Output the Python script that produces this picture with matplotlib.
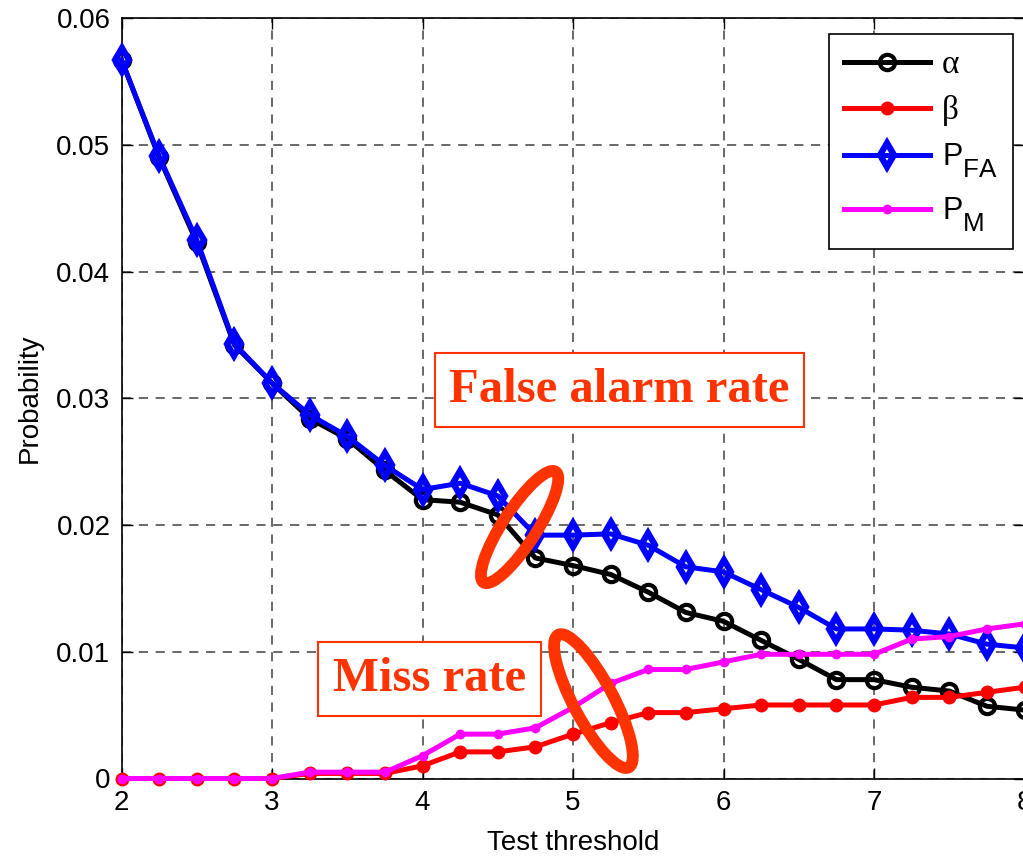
import numpy as np
import matplotlib
matplotlib.use("Agg")
import matplotlib.pyplot as plt
import matplotlib._mathtext as _mt
from matplotlib.patches import Ellipse
from matplotlib.transforms import ScaledTranslation

plt.rcParams['font.family'] = ['Liberation Sans', 'DejaVu Sans']
plt.rcParams['mathtext.fontset'] = 'custom'
plt.rcParams['mathtext.rm'] = 'Liberation Sans'
plt.rcParams['mathtext.it'] = 'Liberation Sans'
plt.rcParams['mathtext.bf'] = 'Liberation Sans:bold'
# larger and lower subscripts, as in the original figure
_mt.SHRINK_FACTOR = 0.85
try:
    _mt.FontConstantsBase.sub1 = 0.75
    _mt.FontConstantsBase.sub2 = 0.9
except Exception:
    pass

threshold = [2.0, 2.25, 2.5, 2.75, 3.0, 3.25, 3.5, 3.75, 4.0, 4.25, 4.5, 4.75,
             5.0, 5.25, 5.5, 5.75, 6.0, 6.25, 6.5, 6.75, 7.0, 7.25, 7.5, 7.75, 8.0]
alpha = [0.0567, 0.0490, 0.0423, 0.0342, 0.0312, 0.0284, 0.0268, 0.0243, 0.0220,
         0.0218, 0.0208, 0.0174, 0.0168, 0.0161, 0.0147, 0.0131, 0.0124, 0.0109,
         0.0094, 0.0078, 0.0078, 0.0072, 0.0069, 0.0057, 0.0054]
beta = [0.0, 0.0, 0.0, 0.0, 0.0, 0.0004, 0.0004, 0.0004, 0.0010, 0.0021, 0.0021,
        0.0025, 0.0035, 0.0044, 0.0052, 0.0052, 0.0055, 0.0058, 0.0058, 0.0058,
        0.0058, 0.0064, 0.0064, 0.0068, 0.0072]
p_fa = [0.0567, 0.0491, 0.0425, 0.0343, 0.0312, 0.0287, 0.0270, 0.0247, 0.0228,
        0.0233, 0.0223, 0.0192, 0.0192, 0.0193, 0.0184, 0.0167, 0.0163, 0.0149,
        0.0135, 0.0118, 0.0118, 0.0117, 0.0114, 0.0106, 0.0103]
p_m = [0.0, 0.0, 0.0, 0.0, 0.0, 0.0005, 0.0005, 0.0005, 0.0018, 0.0035, 0.0035,
       0.0040, 0.0056, 0.0075, 0.0086, 0.0086, 0.0092, 0.0098, 0.0098, 0.0098,
       0.0098, 0.0110, 0.0112, 0.0118, 0.0122]

legend_labels = ['α', 'β', r'$\mathrm{P}_{\mathrm{FA}}$', r'$\mathrm{P}_{\mathrm{M}}$']

xticks = [2, 3, 4, 5, 6, 7, 8]
yticks = [0, 0.01, 0.02, 0.03, 0.04, 0.05, 0.06]
ytick_labels = ['0', '0.01', '0.02', '0.03', '0.04', '0.05', '0.06']

ann_color = '#FF3300'
W, H = 1023, 856

fig = plt.figure(figsize=(W / 100, H / 100), dpi=100)
ax = fig.add_axes([121.5 / W, 77.5 / H, 903 / W, 760.5 / H])

lw = 3.6
ax.plot(threshold, alpha, color='black', lw=lw, marker='o', ms=11, mfc='none',
        mec='black', mew=3, label=legend_labels[0], zorder=3, clip_on=False)
ax.plot(threshold, beta, color='red', lw=lw, marker='o', ms=9, mfc='red',
        mec='red', mew=1, label=legend_labels[1], zorder=3, clip_on=False)
ax.plot(threshold, p_fa, color='#0000FF', lw=lw, marker='d', ms=12, mfc='none',
        mec='#0000FF', mew=4.5, label=legend_labels[2], zorder=4, clip_on=False)
ax.plot(threshold, p_m, color='#FF00FF', lw=lw, marker='o', ms=6, mfc='#FF00FF',
        mec='#FF00FF', mew=1, label=legend_labels[3], zorder=4, clip_on=False)

ax.set_xlim(2, 8)
ax.set_ylim(0, 0.06)
ax.set_xticks(xticks)
ax.set_yticks(yticks)
ax.set_yticklabels(ytick_labels)
ax.tick_params(direction='in', length=8, width=1, labelsize=20, top=True, right=True,
               pad=8)
ax.grid(True, color='0.25', ls=(0, (6, 5)), lw=1.1)
for s in ax.spines.values():
    s.set_linewidth(1.2)

ax.set_xlabel('Test threshold', fontsize=20, labelpad=10)
ax.set_ylabel('Probability', fontsize=20, labelpad=10)

leg = ax.legend(loc='upper right', bbox_to_anchor=(1013 / W, 1 - 34 / H),
                bbox_transform=fig.transFigure, fontsize=22, handlelength=2.8,
                labelspacing=0.5, borderpad=0.5, handletextpad=0.4,
                borderaxespad=0, fancybox=False, edgecolor='black', framealpha=1)
leg.get_frame().set_linewidth(1.2)
leg.set_zorder(8)
for t in leg.get_texts()[:2]:
    t.set_family('Liberation Serif')
    t.set_fontsize(24)

ax.text(5.309, 0.03065, 'False alarm rate', family='Liberation Serif', weight='bold',
        fontsize=35, color=ann_color, ha='center', va='center', zorder=6,
        bbox=dict(boxstyle='square,pad=0.3', fc='white', ec=ann_color, lw=1.5))
ax.text(4.047, 0.00785, 'Miss rate', family='Liberation Serif', weight='bold',
        fontsize=35, color=ann_color, ha='center', va='center', zorder=6,
        bbox=dict(boxstyle='square,pad=0.3', fc='white', ec=ann_color, lw=1.5))

for (cx, cy, a_px, b_px, ang) in [(4.645, 0.01984, 66, 17, 57),
                                  (5.136, 0.00611, 75, 20, -62)]:
    e = Ellipse((0, 0), width=2 * a_px / 100, height=2 * b_px / 100, angle=ang,
                fill=False, ec=ann_color, lw=8.5,
                transform=fig.dpi_scale_trans + ScaledTranslation(cx, cy, ax.transData),
                zorder=7)
    ax.add_patch(e)

fig.savefig('out.png', dpi=100)
